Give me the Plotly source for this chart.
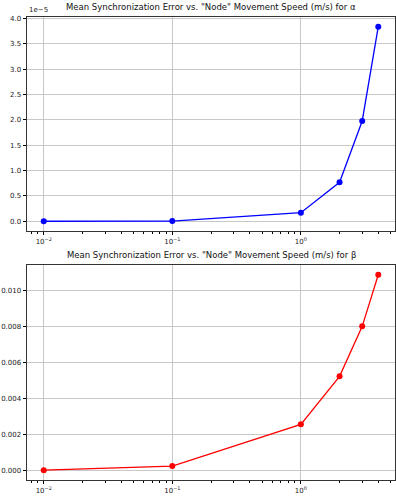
import plotly.graph_objects as go
import math

# Data
speeds = [0.01, 0.1, 1, 2, 3, 4]
alpha_err = [0.0e-5, 0.003e-5, 0.17e-5, 0.77e-5, 1.98e-5, 3.84e-5]
beta_err = [0.00003, 0.00026, 0.00258, 0.00525, 0.00803, 0.0109]

alpha_tickvals = [0, 0.5e-5, 1.0e-5, 1.5e-5, 2.0e-5, 2.5e-5, 3.0e-5, 3.5e-5, 4.0e-5]
alpha_ticktext = ["0.0", "0.5", "1.0", "1.5", "2.0", "2.5", "3.0", "3.5", "4.0"]
beta_tickvals = [0.0, 0.002, 0.004, 0.006, 0.008, 0.010]
beta_ticktext = ["0.000", "0.002", "0.004", "0.006", "0.008", "0.010"]
x_tickvals = [0.01, 0.1, 1]
x_ticktext = ["10<sup>−2</sup>", "10<sup>−1</sup>", "10<sup>0</sup>"]
x_minor = [m * 10.0 ** e for e in (-3, -2, -1, 0) for m in range(2, 10)]

title_a = 'Mean Synchronization Error vs. "Node" Movement Speed (m/s) for α'
title_b = 'Mean Synchronization Error vs. "Node" Movement Speed (m/s) for β'

def mpl_range(vals, log=False):
    v = [math.log10(x) for x in vals] if log else list(vals)
    lo, hi = min(v), max(v)
    m = (hi - lo) * 0.05
    return [lo - m, hi + m]

FONT = "DejaVu Sans"
fig = go.Figure()
fig.add_trace(go.Scatter(x=speeds, y=alpha_err, mode="lines+markers",
                         line=dict(color="#0000ff", width=1.3),
                         marker=dict(color="#0000ff", size=6),
                         xaxis="x", yaxis="y", showlegend=False))
fig.add_trace(go.Scatter(x=speeds, y=beta_err, mode="lines+markers",
                         line=dict(color="#ff0000", width=1.3),
                         marker=dict(color="#ff0000", size=6),
                         xaxis="x2", yaxis="y2", showlegend=False))

xcommon = dict(type="log", range=mpl_range(speeds, log=True), autorange=False,
               tickmode="array", tickvals=x_tickvals, ticktext=x_ticktext,
               ticks="outside", ticklen=3.5, tickwidth=0.8, tickcolor="#000",
               showgrid=True, gridcolor="#c8c8c8", gridwidth=0.8,
               showline=True, linecolor="#333", linewidth=0.8, mirror=True,
               zeroline=False, automargin=False,
               minor=dict(tickmode="array", tickvals=x_minor, ticks="outside",
                          ticklen=2, tickcolor="#000", tickwidth=0.6, showgrid=False),
               tickfont=dict(family=FONT, size=7, color="#222"))
ycommon = dict(ticks="outside", ticklen=3.5, tickwidth=0.8, tickcolor="#000",
               showgrid=True, gridcolor="#c8c8c8", gridwidth=0.8,
               showline=True, linecolor="#333", linewidth=0.8, mirror=True,
               zeroline=False, automargin=False, tickmode="array",
               tickfont=dict(family=FONT, size=7, color="#222"))

fig.update_layout(
    width=396, height=497,
    margin=dict(l=27, r=1, t=17, b=17),
    paper_bgcolor="white", plot_bgcolor="white",
    xaxis=dict(domain=[0, 1], anchor="y", **xcommon),
    yaxis=dict(domain=[0.5378, 1], anchor="x", range=mpl_range(alpha_err),
               tickvals=alpha_tickvals, ticktext=alpha_ticktext, **ycommon),
    xaxis2=dict(domain=[0, 1], anchor="y2", **xcommon),
    yaxis2=dict(domain=[0, 0.4644], anchor="x2", range=mpl_range(beta_err),
                tickvals=beta_tickvals, ticktext=beta_ticktext, **ycommon),
    annotations=[
        dict(text=title_a, xref="paper", yref="paper", x=0.5, y=1, yshift=3,
             xanchor="center", yanchor="bottom", showarrow=False,
             font=dict(family=FONT, size=8.5, color="#111")),
        dict(text=title_b, xref="paper", yref="paper", x=0.5, y=0.4644, yshift=3,
             xanchor="center", yanchor="bottom", showarrow=False,
             font=dict(family=FONT, size=8.5, color="#111")),
        dict(text="1e−5", xref="paper", yref="paper", x=0, y=1, yshift=1,
             xanchor="left", yanchor="bottom", showarrow=False,
             font=dict(family=FONT, size=7, color="#222")),
    ],
)

fig.write_html("out.html", config={"displayModeBar": False},
               post_script="document.body.style.margin='0';document.body.style.padding='0';")
